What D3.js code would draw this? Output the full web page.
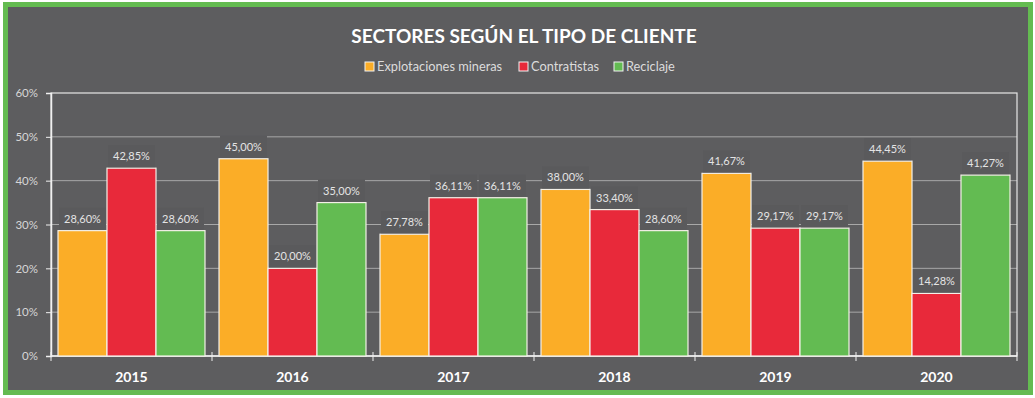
<!DOCTYPE html>
<html>
<head>
<meta charset="utf-8">
<script src="https://cdn.jsdelivr.net/npm/d3@7"></script>
<style>
  body { margin: 0; background: #ffffff; }
  svg { display: block; font-family: Lato, 'Open Sans', sans-serif; }
</style>
</head>
<body>
<div id="chart"></div>
<script>
// chart data
const years = ['2015', '2016', '2017', '2018', '2019', '2020'];
const mineras = [28.60, 45.00, 27.78, 38.00, 41.67, 44.45];
const contratistas = [42.85, 20.00, 36.11, 33.40, 29.17, 14.28];
const reciclaje = [28.60, 35.00, 36.11, 28.60, 29.17, 41.27];
const seriesNames = ['Explotaciones mineras', 'Contratistas', 'Reciclaje'];
const yTicks = [0, 10, 20, 30, 40, 50, 60];

const colors = ['#fbad27', '#e8293a', '#63bb52'];
const values = [mineras, contratistas, reciclaje];

const W = 1035, H = 398;
const margin = {top: 93, right: 18, bottom: 42, left: 51};

const svg = d3.select('#chart').append('svg')
  .attr('width', W)
  .attr('height', H);

// frame
svg.append('rect')
  .attr('x', 5.5).attr('y', 4.5)
  .attr('width', 1025).attr('height', 388)
  .attr('fill', '#5d5d5f')
  .attr('stroke', '#64bb51')
  .attr('stroke-width', 5);

// title
svg.append('text')
  .attr('x', 524).attr('y', 43)
  .attr('text-anchor', 'middle')
  .attr('fill', '#ffffff')
  .style('font-size', '19px')
  .style('font-weight', 'bold')
  .text('SECTORES SEGÚN EL TIPO DE CLIENTE');

// legend
const legendX = [365, 519, 614];
const legend = svg.append('g');
seriesNames.forEach(function(name, i) {
  legend.append('rect')
    .attr('x', legendX[i]).attr('y', 62)
    .attr('width', 9).attr('height', 9)
    .attr('fill', colors[i])
    .attr('stroke', '#f2f2f2')
    .attr('stroke-width', 1);
  legend.append('text')
    .attr('x', legendX[i] + 12).attr('y', 71)
    .attr('fill', '#dcdcdc')
    .style('font-size', '12.8px')
    .text(name);
});

const plotW = W - margin.left - margin.right;
const plotH = H - margin.top - margin.bottom;

const g = svg.append('g')
  .attr('transform', 'translate(' + margin.left + ',' + margin.top + ')');

// scales
const x0 = d3.scaleBand().domain(years).range([0, plotW])
  .paddingInner(0.087).paddingOuter(0.0435);
const x1 = d3.scaleBand().domain(d3.range(3)).range([0, x0.bandwidth()]);
const y = d3.scaleLinear().domain([0, 60]).range([plotH, 0]);

// gridlines
g.append('g')
  .selectAll('line')
  .data(yTicks.slice(1, -1))
  .join('line')
  .attr('x1', 0).attr('x2', plotW)
  .attr('y1', d => y(d)).attr('y2', d => y(d))
  .attr('stroke', '#a8a8a8')
  .attr('stroke-width', 1);

// plot border
g.append('rect')
  .attr('x', 0).attr('y', 0)
  .attr('width', plotW).attr('height', plotH)
  .attr('fill', 'none')
  .attr('stroke', '#e6e6e6')
  .attr('stroke-width', 1.2);

// y axis
const yAxis = g.append('g')
  .call(d3.axisLeft(y).tickValues(yTicks).tickSize(5).tickFormat(d => d + '%'));
yAxis.select('.domain').attr('stroke', '#f0f0f0').attr('stroke-width', 1.5);
yAxis.selectAll('.tick line').attr('stroke', '#f0f0f0');
yAxis.selectAll('.tick text')
  .attr('x', -13)
  .attr('fill', '#d6d6d6')
  .style('font-size', '11.5px')
  .style('font-family', 'Lato, sans-serif');

// x axis: boundary ticks crossing the axis
const bounds = years.map(d => x0(d) - x0.step() * x0.paddingInner() / 2);
bounds.push(plotW);
g.append('line')
  .attr('x1', 0).attr('x2', plotW)
  .attr('y1', plotH).attr('y2', plotH)
  .attr('stroke', '#f0f0f0').attr('stroke-width', 1.5);
g.append('g')
  .selectAll('line')
  .data(bounds)
  .join('line')
  .attr('x1', d => d).attr('x2', d => d)
  .attr('y1', plotH - 4).attr('y2', plotH + 5)
  .attr('stroke', '#f0f0f0');
g.append('g')
  .selectAll('text')
  .data(years)
  .join('text')
  .attr('x', d => x0(d) + x0.bandwidth() / 2)
  .attr('y', plotH + 26)
  .attr('text-anchor', 'middle')
  .attr('fill', '#ffffff')
  .style('font-size', '14px')
  .style('font-weight', 'bold')
  .text(d => d);

// bars
const groups = g.append('g')
  .selectAll('g')
  .data(years)
  .join('g')
  .attr('transform', d => 'translate(' + x0(d) + ',0)');

groups.selectAll('rect')
  .data((d, i) => values.map((v, k) => ({k: k, v: v[i]})))
  .join('rect')
  .attr('x', d => x1(d.k))
  .attr('y', d => y(d.v))
  .attr('width', x1.bandwidth())
  .attr('height', d => plotH - y(d.v))
  .attr('fill', d => colors[d.k])
  .attr('stroke', '#f4f0e8')
  .attr('stroke-width', 1.2);

// data labels
const fmt = v => v.toFixed(2).replace('.', ',') + '%';
groups.selectAll('rect.lblbg')
  .data((d, i) => values.map((v, k) => ({k: k, v: v[i]})))
  .join('rect')
  .attr('class', 'lblbg')
  .attr('x', d => x1(d.k) + 1)
  .attr('y', d => y(d.v) - 23)
  .attr('width', x1.bandwidth() - 2)
  .attr('height', 22)
  .attr('fill', '#5a5a5c');

groups.selectAll('text')
  .data((d, i) => values.map((v, k) => ({k: k, v: v[i]})))
  .join('text')
  .attr('x', d => x1(d.k) + x1.bandwidth() / 2)
  .attr('y', d => y(d.v) - 8)
  .attr('text-anchor', 'middle')
  .attr('fill', '#e4e4e4')
  .style('font-size', '11px')
  .text(d => fmt(d.v));
</script>
</body>
</html>
